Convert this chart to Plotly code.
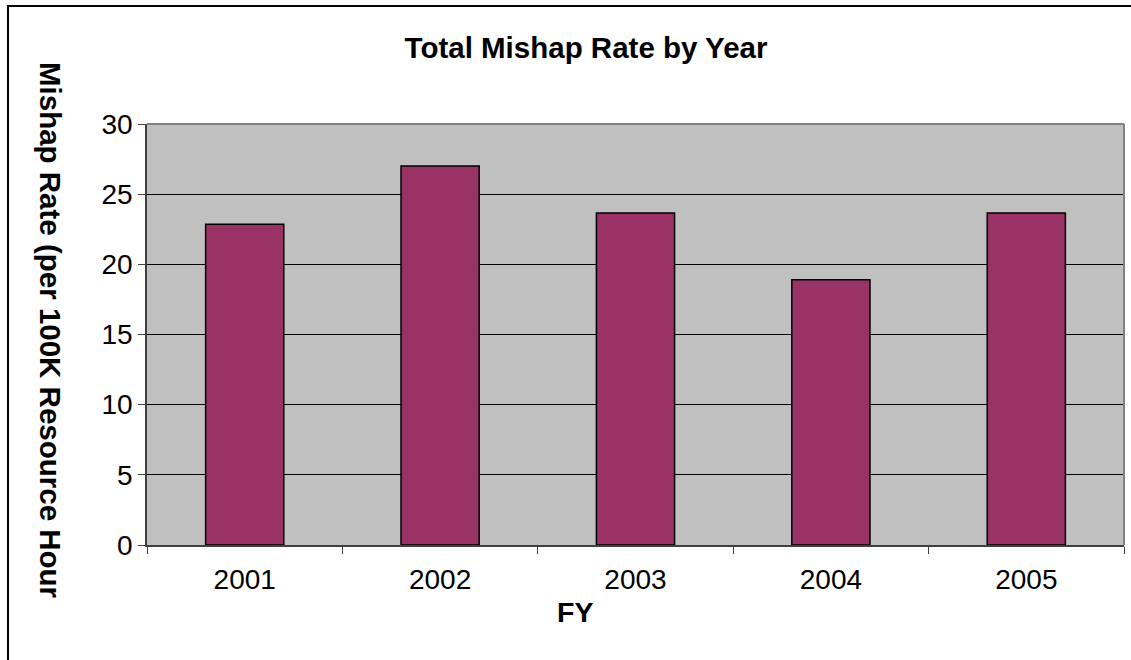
import plotly.graph_objects as go

years = ["2001", "2002", "2003", "2004", "2005"]
rates = [22.85, 27.0, 23.65, 18.9, 23.65]
y_ticks = [0, 5, 10, 15, 20, 25, 30]

FONT = "Liberation Sans, Arial, sans-serif"

fig = go.Figure()
fig.add_trace(go.Bar(
    x=years, y=rates,
    marker=dict(color="#993366", line=dict(color="#000000", width=1.5)),
    width=0.4,
))

W, H = 1131, 660
L, R, T, B = 147, 7, 124, 115
pw, ph = W - L - R, H - T - B

def px(x):
    return (x - L) / pw

def py(y):
    return (H - B - y) / ph

fig.update_layout(
    width=W, height=H,
    margin=dict(l=L, r=R, t=T, b=B, pad=0),
    paper_bgcolor="white",
    plot_bgcolor="#C0C0C0",
    showlegend=False,
    font=dict(family=FONT, color="black", size=28),
    title=dict(
        text="<b>Total Mishap Rate by Year</b>",
        font=dict(family=FONT, size=29.5, color="black"),
        xref="container", x=586 / W, xanchor="center",
        yref="container", y=(H - 48) / H, yanchor="middle",
    ),
    xaxis=dict(
        type="category",
        tickson="boundaries",
        ticks="outside", ticklen=7, tickcolor="#404040", tickwidth=1,
        showline=True, linecolor="#404040", linewidth=1.5,
        showgrid=False, zeroline=False,
        ticklabelstandoff=9,
        tickfont=dict(size=28, family=FONT, color="black"),
    ),
    yaxis=dict(
        range=[0, 30],
        tickvals=y_ticks,
        ticks="outside", ticklen=7, tickcolor="#404040", tickwidth=1,
        showline=True, linecolor="#404040", linewidth=1.5,
        showgrid=True, gridcolor="#000000", gridwidth=1,
        zeroline=False,
        tickfont=dict(size=28, family=FONT, color="black"),
    ),
    annotations=[
        dict(
            text="<b>Mishap Rate (per 100K Resource Hour</b>",
            textangle=90,
            xref="paper", yref="paper",
            x=px(51), y=py(330),
            xanchor="center", yanchor="middle",
            showarrow=False,
            font=dict(family=FONT, size=29.5, color="black"),
        ),
        dict(
            text="<b>FY</b>",
            xref="paper", yref="paper",
            x=px(575), y=py(612),
            xanchor="center", yanchor="middle",
            showarrow=False,
            font=dict(family=FONT, size=28.5, color="black"),
        ),
    ],
    shapes=[
        dict(type="line", xref="paper", yref="paper", x0=0, x1=1, y0=1, y1=1,
             line=dict(color="#808080", width=2)),
        dict(type="line", xref="paper", yref="paper", x0=1, x1=1, y0=0, y1=1,
             line=dict(color="#808080", width=2)),
        dict(type="rect", xref="paper", yref="paper",
             x0=px(8), x1=px(1145), y0=py(675), y1=py(6),
             line=dict(color="black", width=2), fillcolor="rgba(0,0,0,0)"),
    ],
)

fig.write_html("out.html")
